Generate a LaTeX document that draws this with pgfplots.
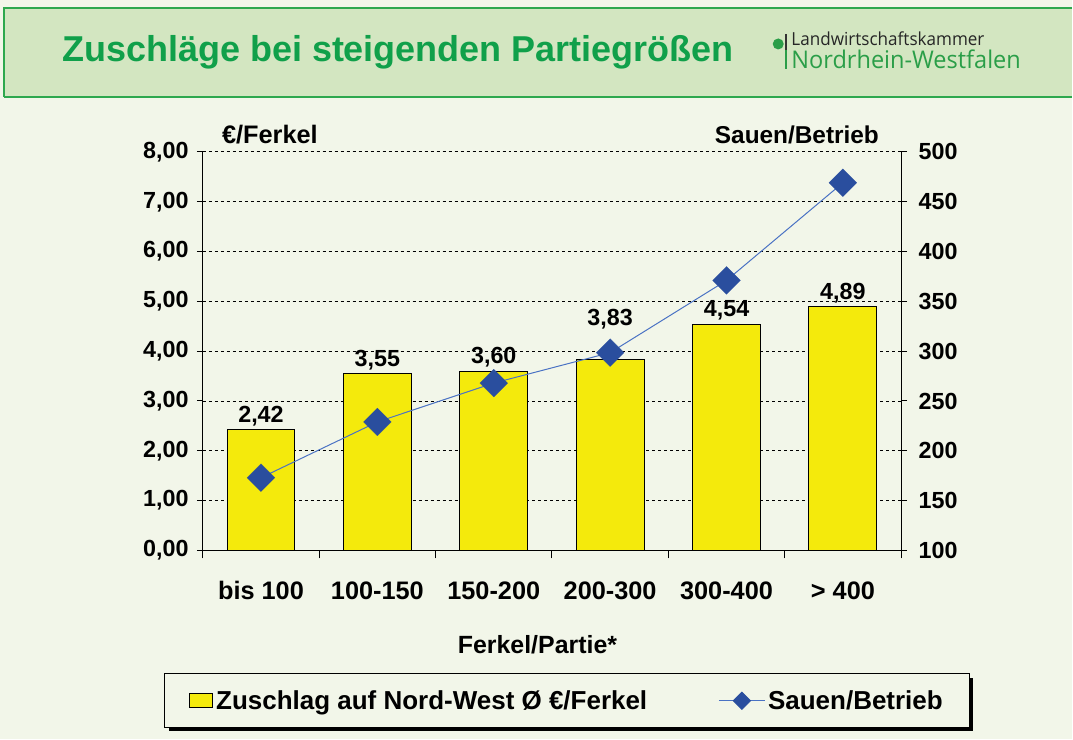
\documentclass[border=0pt]{standalone}
\usepackage{fontspec}
\setmainfont{Liberation Sans}
\newfontfamily\logofont{Open Sans}
\usepackage{pgfplots}
\usepackage{pgfplotstable}
\pgfplotsset{compat=1.18}
\definecolor{bg}{HTML}{F2F6E9}
\definecolor{band}{HTML}{D3E6C1}
\definecolor{bandline}{HTML}{2EA84E}
\definecolor{titlegreen}{HTML}{10A04A}
\definecolor{logogreen}{HTML}{2A9E48}
\definecolor{baryellow}{HTML}{F4EA0C}
\definecolor{diam}{HTML}{2A4E9E}
\definecolor{lineblue}{HTML}{4A72C4}
\pgfplotstableread{
x y dy
0.5 2.42 0
1.5 3.55 0
2.5 3.60 0
3.5 3.83 20
4.5 4.54 0
5.5 4.89 0
}\bars
\pgfplotstableread{
x y
0.5 173
1.5 229
2.5 268
3.5 298.5
4.5 371
5.5 469
}\sauen
\begin{document}
\begin{tikzpicture}[x=0.75pt,y=-0.75pt]
\fill[bg] (0,0) rectangle (1073,740);
\fill[band] (4,8) rectangle (1073,97);
\draw[bandline, line width=0.8pt] (1073,8) -- (4,8) -- (4,97);
\draw[bandline, line width=1.6pt] (4,97) -- (1073,97);
\node[anchor=west, text=titlegreen, font=\fontsize{27}{31}\selectfont\bfseries, inner sep=0] at (62,52) {Zuschläge bei steigenden Partiegrößen};
% logo
\fill[logogreen] (779,44) circle (5.5);
\draw[black!80, line width=1.2pt] (787,34) -- (787,50);
\draw[logogreen, line width=1.2pt] (787,50) -- (787,69);
\node[anchor=base west, inner sep=0, text=black!85, font=\logofont\fontsize{13.5}{15}\selectfont] at (792,46) {\scalebox{0.95}[1]{Landwirtschaftskammer}};
\node[anchor=base west, inner sep=0, text=logogreen, font=\logofont\fontsize{18.3}{20}\selectfont] at (792,68.5) {\scalebox{0.965}[1]{Nordrhein-Westfalen}};
% headers
\node[anchor=west, inner sep=0, font=\fontsize{19}{21}\selectfont\bfseries] at (222,135) {€/Ferkel};
\node[anchor=east, inner sep=0, font=\fontsize{18.3}{20}\selectfont\bfseries] at (880,135) {Sauen/Betrieb};
\node[anchor=center, inner sep=0, font=\fontsize{18.7}{20}\selectfont\bfseries] at (538,645) {Ferkel/Partie*};
% legend shadow
\fill[black] (169,679) rectangle (974,732);

\begin{axis}[
  at={(152.25pt,-413.25pt)}, anchor=south west,
  scale only axis, width=524.25pt, height=299.25pt,
  xmin=0, xmax=6, ymin=0, ymax=8,
  axis x line*=bottom, axis y line*=left,
  axis line style={black, line width=0.75pt},
  ytick={0,...,8},
  ymajorgrids, grid style={black, line width=0.7pt, dash pattern=on 2.25pt off 2.25pt},
  tick style={black, line width=0.75pt},
  tick align=outside, major tick length=4.5pt,
  xtick={0.5,1.5,2.5,3.5,4.5,5.5},
  xticklabels={bis 100, 100-150, 150-200, 200-300, 300-400, > 400},
  x tick style={draw=none},
  extra x ticks={0,1,2,3,4,5,6}, extra x tick labels={},
  extra x tick style={x tick style={draw=black}, major tick length=6pt},
  xticklabel style={font=\fontsize{19}{21}\selectfont\bfseries, anchor=base, inner sep=0pt, yshift=-32.5pt},
  yticklabel style={font=\fontsize{17.5}{19}\selectfont\bfseries, inner sep=0pt, xshift=-6pt},
  /pgf/number format/assume math mode=true,
  yticklabel={\pgfmathprintnumber[fixed, fixed zerofill, precision=2, use comma]{\tick}},
  ybar, bar width=51pt,
  nodes near coords={\pgfmathprintnumber[fixed, fixed zerofill, precision=2, use comma, assume math mode=true]{\pgfplotspointmeta}},
  visualization depends on={\thisrow{dy} \as \dy},
  every node near coord/.append style={font=\fontsize{17.5}{19}\selectfont\bfseries, inner sep=2.5pt, black, yshift=\dy pt},
]
\addplot[fill=baryellow, draw=black, line width=0.75pt, bar shift=0pt] table[x=x, y=y] {\bars};
\end{axis}

\begin{axis}[
  at={(152.25pt,-413.25pt)}, anchor=south west,
  scale only axis, width=524.25pt, height=299.25pt,
  xmin=0, xmax=6, ymin=100, ymax=500,
  axis y line*=right, axis x line=none,
  axis line style={black, line width=0.75pt},
  ytick={100,150,...,500},
  tick style={black, line width=0.75pt},
  tick align=outside, major tick length=4.5pt,
  /pgf/number format/assume math mode=true,
  yticklabel style={font=\fontsize{17.5}{19}\selectfont\bfseries, inner sep=0pt, xshift=8.5pt},
  legend style={at={(0.5215,-0.377)}, anchor=center, draw=black, fill=bg, line width=0.75pt,
    font=\fontsize{19.5}{21}\selectfont\bfseries, inner xsep=17.75pt, inner ysep=10.5pt,
    /tikz/every even column/.append style={column sep=51.5pt}},
  legend columns=2,
]
\addlegendimage{legend image code/.code={\draw[fill=baryellow, draw=black, line width=0.75pt] (0pt,-5.25pt) rectangle (18pt,5.25pt);}}
\addlegendentry{Zuschlag auf Nord-West Ø €/Ferkel}
\addplot[lineblue, line width=0.75pt, mark=square*, mark size=7.4pt, mark options={rotate=45, fill=diam, draw=diam, line width=0.1pt},
  legend image code/.code={\draw[lineblue, line width=0.75pt] (0pt,0pt) -- (34.5pt,0pt); \fill[diam] (17.25pt,6.4pt) -- (23.65pt,0pt) -- (17.25pt,-6.4pt) -- (10.85pt,0pt) -- cycle;}]
  table[x=x, y=y] {\sauen};
\addlegendentry{Sauen/Betrieb}
\end{axis}
\end{tikzpicture}
\end{document}
